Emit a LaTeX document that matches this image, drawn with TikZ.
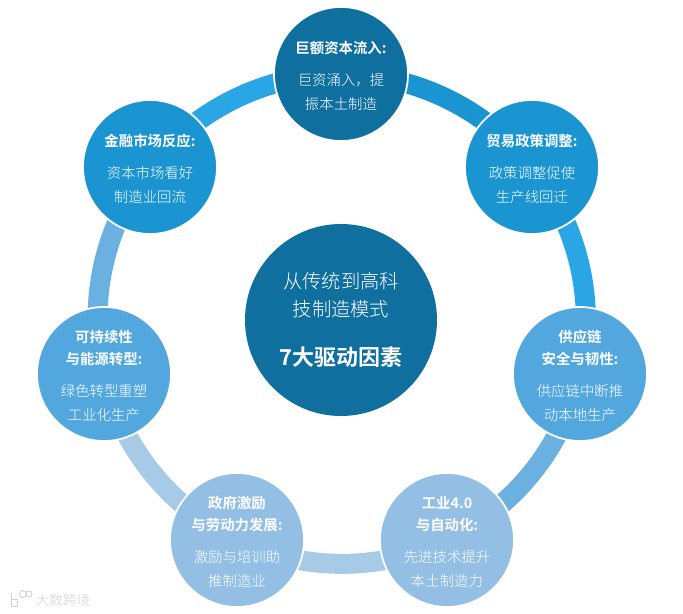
\documentclass[tikz,border=0pt]{standalone}
\usepackage{fontspec}
\setmainfont{Noto Sans CJK SC Light}[BoldFont={Noto Sans CJK SC Bold}]
\usetikzlibrary{backgrounds}
\definecolor{topblue}{HTML}{0F6F9E}
\definecolor{midblue}{HTML}{1A95D2}
\definecolor{softblue}{HTML}{52A7DF}
\definecolor{paleblue}{HTML}{93BFE4}
\definecolor{arcblue}{HTML}{2AA5E6}
\definecolor{arcsoft}{HTML}{6AB0E1}
\definecolor{arcpale}{HTML}{A7CAE7}
\newcommand{\headline}[1]{\rule{0pt}{9pt}\textbf{#1}}
\tikzset{
  driver/.style={circle,draw=white,line width=1pt,minimum size=134*0.02cm,inner sep=0pt,
    text=white,align=center,font=\fontsize{8.2}{13.6}\selectfont},
  ringarc/.style={line width=20*0.02cm,bend left=25.7,looseness=0.896}
}
\begin{document}
\begin{tikzpicture}[x=0.02cm,y=-0.02cm]
  \useasboundingbox (0,0) rectangle (683,614);
  \node[driver,fill=topblue] (inflow) at (341,74) {\headline{巨额资本流入:}\\[5pt]巨资涌入\symbol{"FF0C}提\\振本土制造};
  \node[driver,fill=midblue] (trade) at (532,167) {\headline{贸易政策调整:}\\[5pt]政策调整促使\\生产线回迁};
  \node[driver,fill=softblue] (supply) at (580,374) {\headline{供应链}\\[-1pt]\textbf{安全与韧性:}\\[4.5pt]供应链中断推\\动本地生产};
  \node[driver,fill=paleblue] (auto) at (447,540) {\headline{工业4.0}\\[-1pt]\textbf{与自动化:}\\[4.5pt]先进技术提升\\本土制造力};
  \node[driver,fill=paleblue] (labor) at (237,540) {\headline{政府激励}\\[-1pt]\textbf{与劳动力发展:}\\[4.5pt]激励与培训助\\推制造业};
  \node[driver,fill=softblue] (energy) at (104,374) {\headline{可持续性}\\[-1pt]\textbf{与能源转型:}\\[4.5pt]绿色转型重塑\\工业化生产};
  \node[driver,fill=midblue] (market) at (150,167) {\headline{金融市场反应:}\\[5pt]资本市场看好\\制造业回流};
  \node[circle,fill=topblue,minimum size=192*0.02cm,inner sep=0pt,text=white,align=center,
    font=\fontsize{11}{16}\selectfont] (core) at (341,320)
    {从传统到高科\\技制造模式\\[11.8pt]{\fontsize{12.5}{16}\selectfont\textbf{7大驱动因素}}};
  \begin{scope}[on background layer]
    \foreach \from/\to/\col in {inflow/trade/midblue,trade/supply/arcblue,supply/auto/arcsoft,
      auto/labor/arcpale,labor/energy/arcpale,energy/market/arcsoft,market/inflow/arcblue}
      \draw[ringarc,color=\col] (\from.center) to (\to.center);
  \end{scope}
  % watermark
  \node[text=gray!35,font=\fontsize{7.8}{9}\selectfont,inner sep=0pt] (mark) at (63,600) {大数跨境};
  \draw[gray!35,line width=0.5pt] (11,593) -- (11,606) -- (17,606) -- (17,599) -- (11,599);
  \draw[gray!35,line width=0.5pt] (23,594) circle (3.5);
  \draw[gray!35,line width=0.5pt] (29,594) circle (3);
\end{tikzpicture}
\end{document}
